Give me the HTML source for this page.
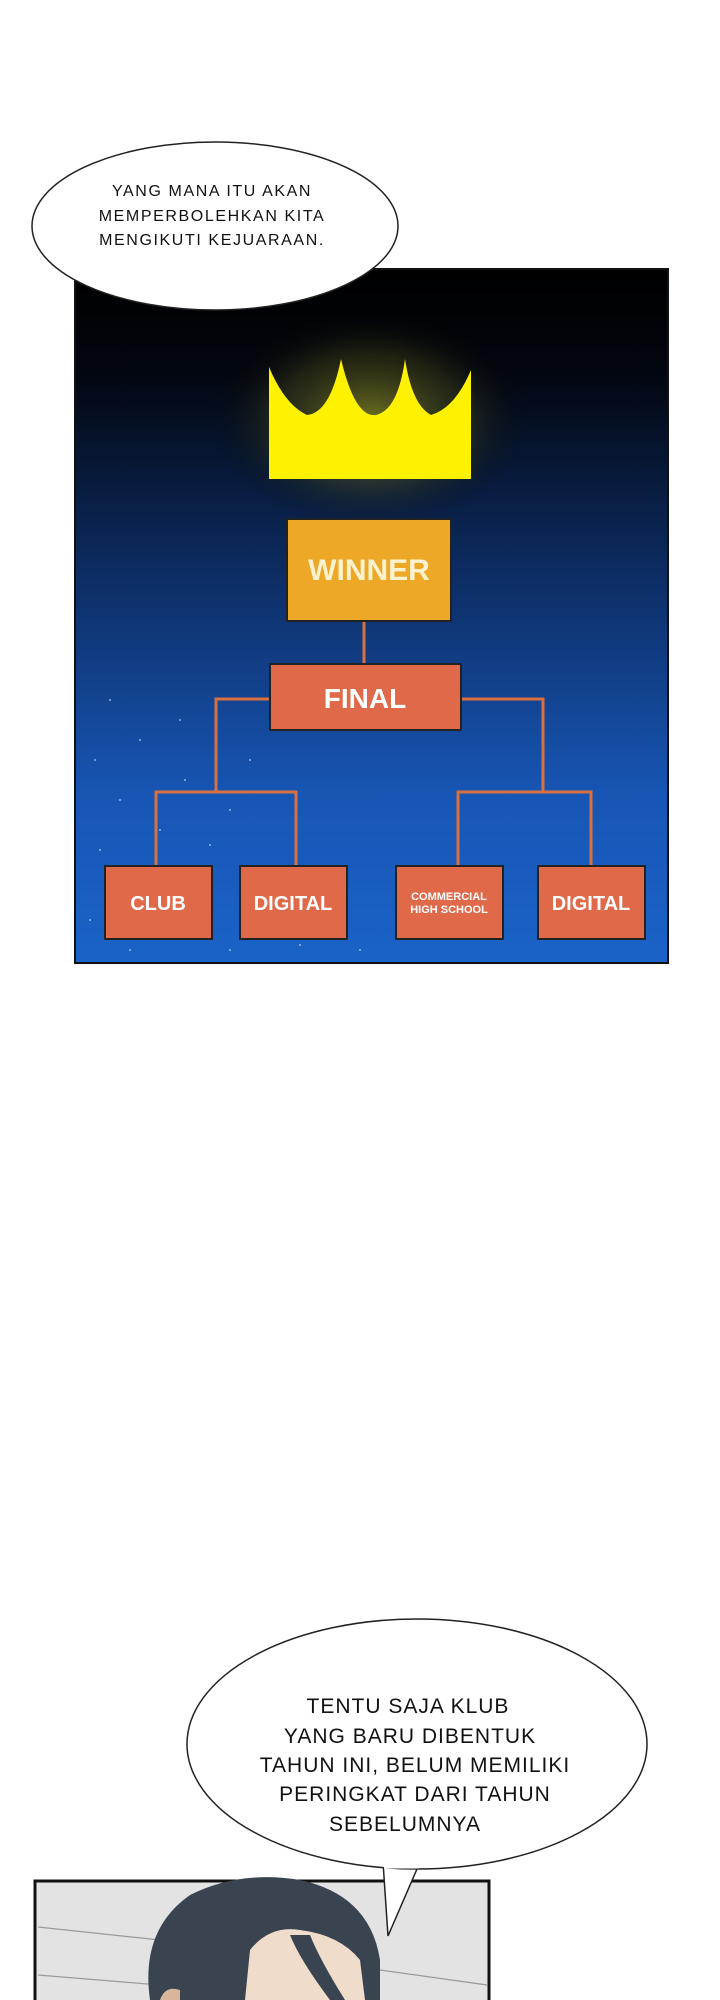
<!DOCTYPE html>
<html><head><meta charset="utf-8"><style>
html,body{margin:0;padding:0;background:#fff;}
body{width:720px;height:2000px;position:relative;overflow:hidden;font-family:"Liberation Sans",sans-serif;}
.abs{position:absolute;}
</style></head><body>
<svg class="abs" style="left:0;top:0" width="720" height="2000" viewBox="0 0 720 2000">
<defs>
<linearGradient id="bg" x1="0" y1="0" x2="0" y2="1">
<stop offset="0" stop-color="#000000"/>
<stop offset="0.15" stop-color="#02060f"/>
<stop offset="0.45" stop-color="#0d2e66"/>
<stop offset="0.75" stop-color="#1755b3"/>
<stop offset="1" stop-color="#1b63c8"/>
</linearGradient>
<radialGradient id="glow" cx="0.5" cy="0.5" r="0.5">
<stop offset="0" stop-color="#8a8a20" stop-opacity="0.8"/>
<stop offset="0.6" stop-color="#4a4a18" stop-opacity="0.4"/>
<stop offset="1" stop-color="#000" stop-opacity="0"/>
</radialGradient>
</defs>
<rect x="75" y="269" width="593" height="694" fill="url(#bg)" stroke="#111" stroke-width="2"/>
<g fill="#cfe0ff" opacity="0.7">
<circle cx="95" cy="760" r="1"/><circle cx="120" cy="800" r="1"/><circle cx="140" cy="740" r="1"/><circle cx="100" cy="850" r="1"/><circle cx="160" cy="830" r="1"/><circle cx="185" cy="780" r="1"/><circle cx="210" cy="845" r="1"/><circle cx="90" cy="920" r="1"/><circle cx="130" cy="950" r="1"/><circle cx="230" cy="950" r="1"/><circle cx="180" cy="720" r="1"/><circle cx="250" cy="760" r="1"/><circle cx="360" cy="950" r="1"/><circle cx="300" cy="945" r="1"/><circle cx="110" cy="700" r="1"/><circle cx="230" cy="810" r="1"/>
</g>
<ellipse cx="370" cy="420" rx="160" ry="110" fill="url(#glow)"/>
<path d="M269,367 Q285,405 307,415 Q330,413 341,359 Q355,418 376,415 Q398,410 405,359 Q412,405 431,415 Q455,408 471,370 L471,479 L269,479 Z" fill="#fff200"/>
<g stroke="#d9703f" stroke-width="3" fill="none">
<line x1="364" y1="621" x2="364" y2="664"/>
<polyline points="270,699 216,699 216,792"/>
<polyline points="461,699 543,699 543,792"/>
<polyline points="156,866 156,792 296,792 296,866"/>
<polyline points="458,866 458,792 591,792 591,866"/>
</g>
<rect x="287" y="519" width="164" height="102" fill="#eea827" stroke="#222" stroke-width="2"/>
<rect x="270" y="664" width="191" height="66" fill="#e0694a" stroke="#222" stroke-width="2"/>
<rect x="105" y="866" width="107" height="73" fill="#e0694a" stroke="#222" stroke-width="2"/>
<rect x="240" y="866" width="107" height="73" fill="#e0694a" stroke="#222" stroke-width="2"/>
<rect x="396" y="866" width="107" height="73" fill="#e0694a" stroke="#222" stroke-width="2"/>
<rect x="538" y="866" width="107" height="73" fill="#e0694a" stroke="#222" stroke-width="2"/>
<g fill="#fff" font-family="Liberation Sans, sans-serif" font-weight="bold" text-anchor="middle">
<text x="369" y="580" font-size="30" fill="#fdf2d0">WINNER</text>
<text x="365" y="708" font-size="28">FINAL</text>
<text x="158" y="910" font-size="20">CLUB</text>
<text x="293" y="910" font-size="20">DIGITAL</text>
<text x="449" y="900" font-size="11">COMMERCIAL</text>
<text x="449" y="913" font-size="11">HIGH SCHOOL</text>
<text x="591" y="910" font-size="20">DIGITAL</text>
</g>
<ellipse cx="215" cy="226" rx="183" ry="84" fill="#fff" stroke="#222" stroke-width="1.5"/>
<g font-family="Liberation Sans, sans-serif" font-size="16" fill="#111" text-anchor="middle" letter-spacing="1.6">
<text x="212" y="196">YANG MANA ITU AKAN</text>
<text x="212" y="221">MEMPERBOLEHKAN KITA</text>
<text x="212" y="245">MENGIKUTI KEJUARAAN.</text>
</g>
<rect x="35" y="1881" width="454" height="130" fill="#e3e3e3" stroke="#111" stroke-width="3"/>
<g stroke="#9a9a9a" stroke-width="1.2">
<line x1="38" y1="1927" x2="160" y2="1940"/>
<line x1="38" y1="1975" x2="160" y2="1985"/>
<line x1="380" y1="1970" x2="487" y2="1985"/>
</g>
<path d="M150,2000 Q140,1930 190,1895 Q240,1870 300,1880 Q370,1895 380,1960 L380,2000 Z" fill="#3a4350"/>
<path d="M245,2000 L250,1950 Q270,1925 300,1930 Q340,1935 360,1960 L365,2000 Z" fill="#f0dccb"/>
<path d="M160,2000 Q165,1985 180,1990 L180,2000 Z" fill="#d9b59a"/>
<path d="M290,1935 Q300,1960 330,2000 L345,2000 Q320,1960 310,1935 Z" fill="#3a4350"/>
<path d="M383,1862 L388,1936 L420,1862 Z" fill="#fff" stroke="#222" stroke-width="1.5"/>
<ellipse cx="417" cy="1744" rx="230" ry="125" fill="#fff" stroke="#222" stroke-width="1.5"/>
<path d="M384,1866 L419,1866" stroke="#fff" stroke-width="5"/>
<g font-family="Liberation Sans, sans-serif" font-size="21" fill="#111" text-anchor="middle" letter-spacing="1">
<text x="408" y="1713">TENTU SAJA KLUB</text>
<text x="410" y="1743">YANG BARU DIBENTUK</text>
<text x="415" y="1772">TAHUN INI, BELUM MEMILIKI</text>
<text x="415" y="1801">PERINGKAT DARI TAHUN</text>
<text x="405" y="1831">SEBELUMNYA</text>
</g>
</svg>
</body></html>
